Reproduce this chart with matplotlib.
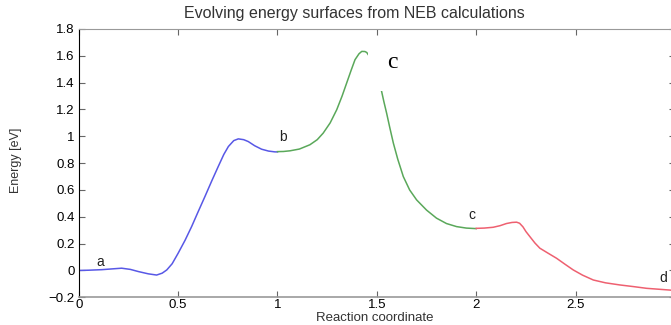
import matplotlib
matplotlib.use("Agg")
import matplotlib.pyplot as plt
from matplotlib.patches import Rectangle

seg_a_x = [0.0, 0.05, 0.116, 0.17, 0.216, 0.26, 0.30, 0.35, 0.392, 0.42, 0.443, 0.47, 0.50,
           0.535, 0.568, 0.60, 0.635, 0.67, 0.702, 0.73, 0.753, 0.78, 0.803, 0.83, 0.853,
           0.885, 0.920, 0.955, 0.987, 1.0]
seg_a_y = [0.0, 0.002, 0.006, 0.012, 0.017, 0.008, -0.008, -0.025, -0.034, -0.02, 0.004, 0.05, 0.128,
           0.225, 0.327, 0.435, 0.551, 0.67, 0.775, 0.865, 0.924, 0.968, 0.981, 0.975, 0.961,
           0.93, 0.904, 0.89, 0.884, 0.884]

seg_b_x = [1.0, 1.03, 1.063, 1.11, 1.163, 1.20, 1.23, 1.265, 1.298, 1.325, 1.348, 1.37, 1.39,
           1.41, 1.424, 1.44, 1.449, 1.47, 1.49, 1.51, 1.524, 1.535, 1.549, 1.565, 1.583,
           1.605, 1.633, 1.665, 1.70, 1.75, 1.80, 1.85, 1.901, 1.95, 2.0]
seg_b_y = [0.886, 0.887, 0.892, 0.905, 0.937, 0.975, 1.024, 1.10, 1.198, 1.30, 1.397, 1.49, 1.571,
           1.615, 1.633, 1.632, 1.625, 1.58, 1.50, 1.41, 1.334, 1.26, 1.173, 1.065, 0.949,
           0.83, 0.70, 0.60, 0.526, 0.45, 0.39, 0.35, 0.327, 0.316, 0.312]

seg_c_x = [2.0, 2.04, 2.085, 2.12, 2.152, 2.18, 2.203, 2.218, 2.235, 2.25, 2.27, 2.295, 2.32,
           2.36, 2.404, 2.445, 2.488, 2.535, 2.589, 2.65, 2.723, 2.79, 2.857, 2.92, 2.974, 3.0]
seg_c_y = [0.314, 0.316, 0.322, 0.334, 0.350, 0.358, 0.36, 0.352, 0.325, 0.29, 0.252, 0.205, 0.166,
           0.13, 0.091, 0.048, 0.004, -0.035, -0.071, -0.092, -0.108, -0.12, -0.133, -0.14, -0.146, -0.15]

labels = ['a', 'b', 'c', 'd']
label_x = [0.107, 1.03, 1.98, 2.94]
label_y = [0.066, 0.996, 0.414, -0.056]

xticks = [0, 0.5, 1, 1.5, 2, 2.5, 3]
xtick_labels = ['0', '0.5', '1', '1.5', '2', '2.5', '']
yticks = [-0.2, 0, 0.2, 0.4, 0.6, 0.8, 1.0, 1.2, 1.4, 1.6, 1.8]
ytick_labels = ['\u22120.2', '0', '0.2', '0.4', '0.6', '0.8', '1', '1.2', '1.4', '1.6', '1.8']

plt.rcParams['font.family'] = ['Liberation Sans', 'DejaVu Sans']

fig = plt.figure(figsize=(6.71, 3.25), dpi=100)
ax = fig.add_axes([0.1173, 0.0852, 1.006 - 0.1173, 0.9108 - 0.0852])

ax.plot(seg_a_x, seg_a_y, color='#5858e6', lw=1.1)
ax.plot(seg_b_x, seg_b_y, color='#5aa85a', lw=1.1)
ax.plot(seg_c_x, seg_c_y, color='#ee6070', lw=1.1)

for t, tx, ty in zip(labels, label_x, label_y):
    ax.text(tx, ty, t, ha='center', va='center', fontsize=10, color='#222222')

# white patch with the serif "c" pasted over the peak
ax.add_patch(Rectangle((1.455, 1.34), 0.245, 0.38, facecolor='white',
                       edgecolor='none', zorder=3))
ax.text(1.576, 1.549, 'c', ha='center', va='center', fontsize=17,
        family='Liberation Serif', zorder=4)

ax.set_xlim(0, 3)
ax.set_ylim(-0.2, 1.8)
ax.set_xticks(xticks)
ax.set_xticklabels(xtick_labels)
ax.set_yticks(yticks)
ax.set_yticklabels(ytick_labels)
ax.tick_params(direction='in', length=4, top=True, right=True,
               labelsize=9.5, color='#666666', pad=3)
ax.tick_params(axis='x', pad=1.5)

for side in ['top', 'right', 'bottom']:
    ax.spines[side].set_color('#999999')
ax.spines['left'].set_color('black')
ax.spines['bottom'].set_linewidth(1.2)

ax.set_title('Evolving energy surfaces from NEB calculations', fontsize=11.5,
             color='#333333', pad=8, x=0.463)
ax.set_xlabel('Reaction coordinate', fontsize=9.5, color='#333333')
ax.xaxis.set_label_coords(0.497, -0.054)
ax.set_ylabel('Energy [eV]', fontsize=9, color='#333333')
ax.yaxis.set_label_coords(-0.095, 0.512)

fig.savefig('out.png', dpi=100)
